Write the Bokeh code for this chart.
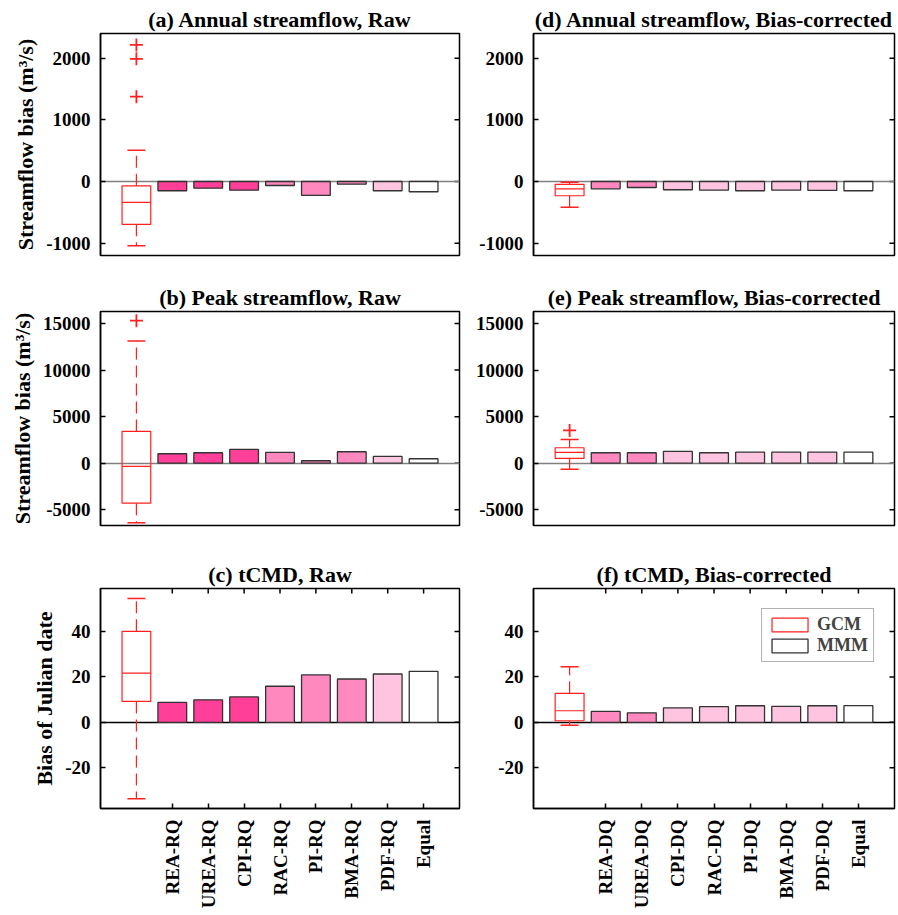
import math
from bokeh.plotting import figure
from bokeh.models import FixedTicker, Range1d, Legend, LegendItem, ColumnDataSource
from bokeh.layouts import column, row
from bokeh.embed import file_html
from bokeh.resources import INLINE

# ---------------- data ----------------
methods_raw = ["REA-RQ", "UREA-RQ", "CPI-RQ", "RAC-RQ", "PI-RQ", "BMA-RQ", "PDF-RQ", "Equal"]
methods_bc = ["REA-DQ", "UREA-DQ", "CPI-DQ", "RAC-DQ", "PI-DQ", "BMA-DQ", "PDF-DQ", "Equal"]

# box statistics: [lower whisker, q1, median, q3, upper whisker]
annual_raw_box = [-1043, -694, -339, -70, 505]
annual_raw_outliers = [2215, 1989, 1376]
annual_raw_bars = [-150, -108, -140, -65, -226, -43, -150, -166]

annual_bc_box = [-419, -231, -118, -48, -11]
annual_bc_outliers = []
annual_bc_bars = [-118, -97, -134, -140, -150, -140, -145, -150]

peak_raw_box = [-6409, -4300, -355, 3409, 13118]
peak_raw_outliers = [15312]
peak_raw_bars = [1011, 1118, 1473, 1150, 258, 1226, 720, 473]

peak_bc_box = [-645, 505, 1150, 1656, 2548]
peak_bc_outliers = [3516]
peak_bc_bars = [1118, 1118, 1258, 1118, 1183, 1183, 1183, 1183]

tcmd_raw_box = [-33.7, 9.2, 21.7, 40.1, 54.6]
tcmd_raw_outliers = []
tcmd_raw_bars = [8.75, 9.9, 11.2, 15.9, 20.9, 19.1, 21.3, 22.5]

tcmd_bc_box = [-1.3, 0.7, 5.1, 12.8, 24.5]
tcmd_bc_outliers = []
tcmd_bc_bars = [4.8, 4.2, 6.4, 6.9, 7.3, 7.0, 7.3, 7.4]

yticks_annual = [-1000, 0, 1000, 2000]
yticks_peak = [-5000, 0, 5000, 10000, 15000]
yticks_tcmd = [-20, 0, 20, 40]

ylim_annual = (-1200, 2400)
ylim_peak = (-6700, 16300)
ylim_tcmd = (-38, 59)
xlim = (0, 10)

titles = ["(a) Annual streamflow, Raw", "(b) Peak streamflow, Raw", "(c) tCMD, Raw",
          "(d) Annual streamflow, Bias-corrected", "(e) Peak streamflow, Bias-corrected",
          "(f) tCMD, Bias-corrected"]
ylabels = ["Streamflow bias (m³/s)", "Streamflow bias (m³/s)", "Bias of Julian date"]
legend_labels = ["GCM", "MMM"]

# ---------------- styles ----------------
DEEP = "#FF3F98"
MED = "#FF88BE"
LIGHT = "#FFC4DF"
WHITE = "#FFFFFF"
raw_colors = [DEEP, DEEP, DEEP, MED, MED, MED, LIGHT, WHITE]
bc_colors = [MED, MED, LIGHT, LIGHT, LIGHT, LIGHT, LIGHT, WHITE]
RED = "#FF2020"
FONT = "Liberation Serif"
TICK_LEN = 5

ROWS = [dict(top=33, h=280, bottom=25), dict(top=31, h=275, bottom=30), dict(top=33, h=356, bottom=102)]
COLS = [dict(left=100, w=470, right=11), dict(left=63, w=428, right=4)]


def style_axis(ax, ticks, size="19px"):
    ax.ticker = FixedTicker(ticks=ticks)
    ax.major_tick_in = TICK_LEN
    ax.major_tick_out = 0
    ax.minor_tick_line_color = None
    ax.axis_line_color = "black"
    ax.axis_line_width = 1.5
    ax.major_tick_line_width = 1.5
    ax.major_tick_line_color = "black"
    ax.major_label_text_font = FONT
    ax.major_label_text_font_style = "bold"
    ax.major_label_text_font_size = size
    ax.major_label_text_color = "black"


def panel(ri, ci, title, box, outliers, bars, colors, ylim, yticks, ylabel, methods, zero_color, legend=False):
    r, c = ROWS[ri], COLS[ci]
    p = figure(width=c["w"], height=r["h"],
               min_border_left=c["left"], min_border_right=c["right"],
               min_border_top=r["top"], min_border_bottom=r["bottom"],
               x_range=Range1d(*xlim), y_range=Range1d(*ylim),
               output_backend="svg", toolbar_location=None, tools="")
    p.grid.visible = False
    p.outline_line_color = "black"
    p.outline_line_width = 1.5
    p.background_fill_color = "white"
    p.border_fill_color = "white"

    p.title.text = title
    p.title.align = "center"
    p.title.text_font = FONT
    p.title.text_font_style = "bold"
    p.title.text_font_size = "22px"
    p.title.standoff = 3
    p.title.text_color = "black"

    # left y axis
    yax = p.yaxis[0]
    style_axis(yax, yticks)
    yax.major_label_overrides = {t: str(t) for t in yticks}
    yax.major_label_standoff = 10
    if ylabel:
        yax.axis_label = ylabel
        yax.axis_label_text_font = FONT
        yax.axis_label_text_font_style = "bold"
        yax.axis_label_text_font_size = "22px"
        yax.axis_label_standoff = 5
        yax.axis_label_text_color = "black"

    # mirrored inner ticks on the right edge
    p.ray(x=[xlim[1]] * len(yticks), y=yticks, length=TICK_LEN, length_units="screen",
          angle=math.pi, line_color="black", line_width=1.5)

    xpos = [i + 2 for i in range(len(bars))]
    if ri < 2:
        p.xaxis.visible = False
    else:
        xax = p.xaxis[0]
        style_axis(xax, xpos)
        xax.major_label_overrides = {x: m for x, m in zip(xpos, methods)}
        xax.major_label_orientation = math.pi / 2
        xax.major_label_standoff = 11
        # mirrored inner ticks on the top edge
        p.ray(x=xpos, y=[ylim[1]] * len(xpos), length=TICK_LEN, length_units="screen",
              angle=-math.pi / 2, line_color="black", line_width=1.5)

    # zero line
    p.hspan(y=[0], line_color=zero_color, line_width=1.5)

    # bars
    src = ColumnDataSource(dict(x=xpos, top=bars, color=colors))
    bars_r = p.vbar(x="x", top="top", bottom=0, width=0.8, source=src, fill_color="color",
                    line_color="#333333", line_width=1.3)

    # box plot at position 1
    lo, q1, med, q3, hi = box
    box_r = p.quad(left=[1 - 0.4], right=[1 + 0.4], bottom=[q1], top=[q3], fill_color="white",
                   fill_alpha=0.0, line_color=RED, line_width=1.2)
    p.segment(x0=[1 - 0.4], x1=[1 + 0.4], y0=[med], y1=[med], line_color=RED, line_width=1.2)
    p.segment(x0=[1, 1], x1=[1, 1], y0=[q3, q1], y1=[hi, lo], line_color=RED,
              line_width=1.2, line_dash="12 6")
    p.segment(x0=[1 - 0.25, 1 - 0.25], x1=[1 + 0.25, 1 + 0.25], y0=[hi, lo], y1=[hi, lo],
              line_color=RED, line_width=1.5)
    if outliers:
        p.scatter(x=[1] * len(outliers), y=outliers, marker="cross", size=13,
                  line_color=RED, line_width=1.8)

    if legend:
        lg = Legend(items=[LegendItem(label=legend_labels[0], renderers=[box_r]),
                           LegendItem(label=legend_labels[1], renderers=[bars_r], index=len(bars) - 1)],
                    location="top_right")
        lg.margin = 20
        lg.padding = 5
        lg.spacing = 0
        lg.glyph_width = 45
        lg.glyph_height = 17
        lg.label_standoff = 5
        lg.label_text_font = FONT
        lg.label_text_font_style = "bold"
        lg.label_text_font_size = "18px"
        lg.border_line_color = "#666666"
        lg.border_line_width = 1.5
        lg.background_fill_color = "white"
        lg.background_fill_alpha = 1.0
        p.add_layout(lg)
    return p


pa = panel(0, 0, titles[0], annual_raw_box, annual_raw_outliers, annual_raw_bars, raw_colors,
           ylim_annual, yticks_annual, ylabels[0], methods_raw, "#808080")
pb = panel(1, 0, titles[1], peak_raw_box, peak_raw_outliers, peak_raw_bars, raw_colors,
           ylim_peak, yticks_peak, ylabels[1], methods_raw, "#808080")
pc = panel(2, 0, titles[2], tcmd_raw_box, tcmd_raw_outliers, tcmd_raw_bars, raw_colors,
           ylim_tcmd, yticks_tcmd, ylabels[2], methods_raw, "black")
pd_ = panel(0, 1, titles[3], annual_bc_box, annual_bc_outliers, annual_bc_bars, bc_colors,
            ylim_annual, yticks_annual, None, methods_bc, "#808080")
pe = panel(1, 1, titles[4], peak_bc_box, peak_bc_outliers, peak_bc_bars, bc_colors,
           ylim_peak, yticks_peak, None, methods_bc, "#808080")
pf = panel(2, 1, titles[5], tcmd_bc_box, tcmd_bc_outliers, tcmd_bc_bars, bc_colors,
           ylim_tcmd, yticks_tcmd, None, methods_bc, "black", legend=True)

layout = column(row(pa, pd_), row(pb, pe), row(pc, pf))
open("out.html", "w").write(file_html(layout, INLINE))
